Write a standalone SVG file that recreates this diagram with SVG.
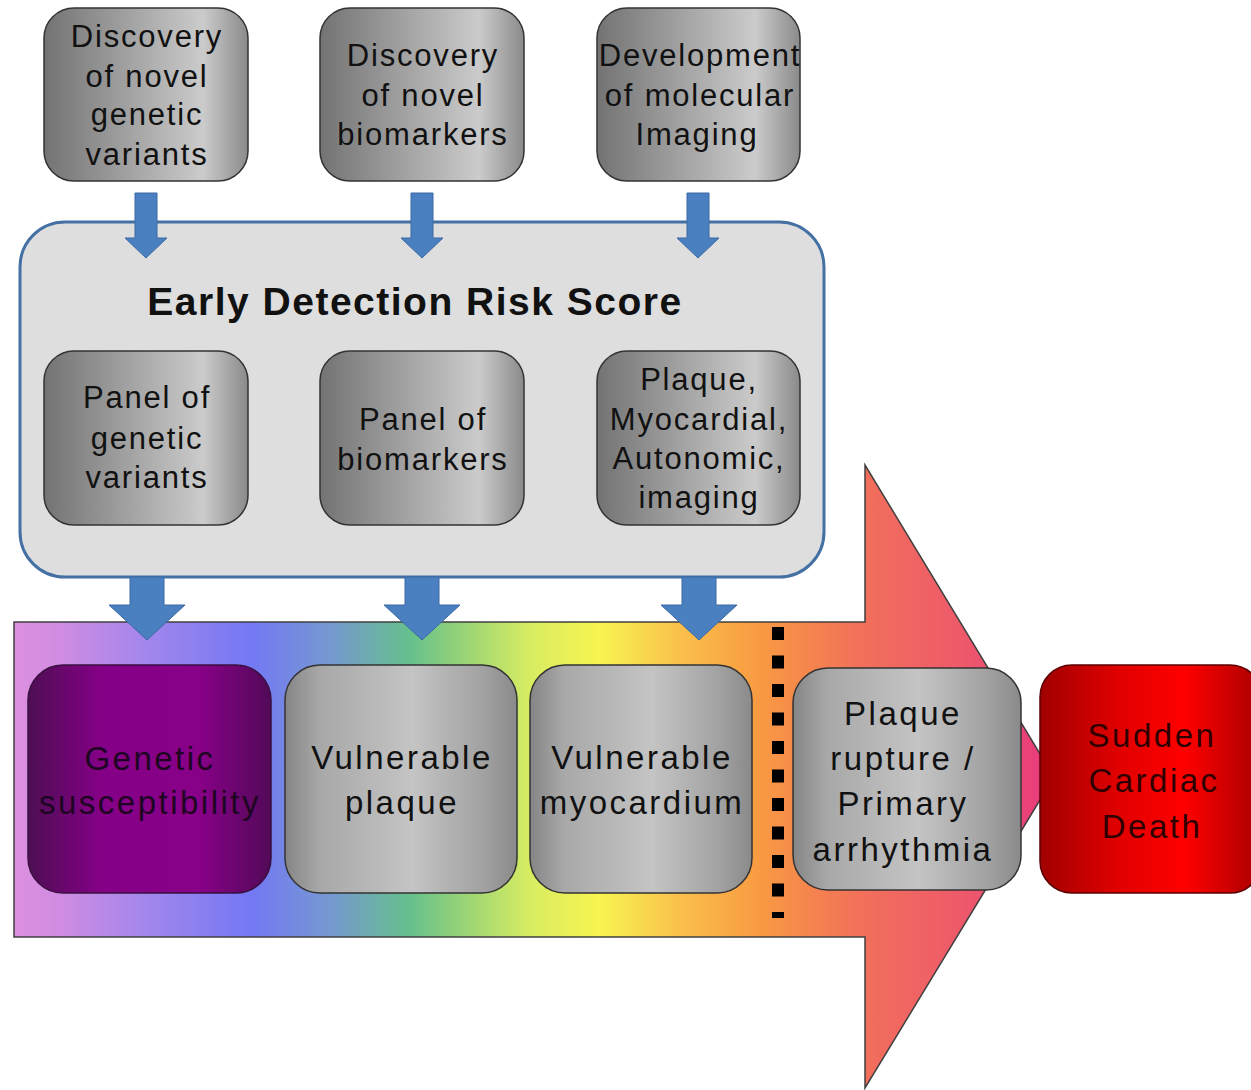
<svg xmlns="http://www.w3.org/2000/svg" width="1251" height="1090" viewBox="0 0 1251 1090">
<defs>
<linearGradient id="rainbow" gradientUnits="userSpaceOnUse" x1="14" y1="0" x2="1054" y2="0">
<stop offset="0" stop-color="#dd8fdf"/>
<stop offset="0.044" stop-color="#d08ce2"/>
<stop offset="0.131" stop-color="#a086ec"/>
<stop offset="0.227" stop-color="#7478f5"/>
<stop offset="0.304" stop-color="#7598d0"/>
<stop offset="0.381" stop-color="#66c08c"/>
<stop offset="0.438" stop-color="#9ed674"/>
<stop offset="0.496" stop-color="#d8ec62"/>
<stop offset="0.563" stop-color="#f8f450"/>
<stop offset="0.640" stop-color="#fac04c"/>
<stop offset="0.717" stop-color="#f89a42"/>
<stop offset="0.813" stop-color="#f2705a"/>
<stop offset="0.910" stop-color="#ee5a6a"/>
<stop offset="1" stop-color="#e8387e"/>
</linearGradient>
<linearGradient id="gray" x1="0" y1="0" x2="1" y2="0">
<stop offset="0" stop-color="#737373"/>
<stop offset="0.45" stop-color="#a6a6a6"/>
<stop offset="0.78" stop-color="#cbcbcb"/>
<stop offset="1" stop-color="#8a8a8a"/>
</linearGradient>
<linearGradient id="gray2" x1="0" y1="0" x2="1" y2="0">
<stop offset="0" stop-color="#858585"/>
<stop offset="0.15" stop-color="#a8a8a8"/>
<stop offset="0.55" stop-color="#c4c4c4"/>
<stop offset="0.85" stop-color="#a2a2a2"/>
<stop offset="1" stop-color="#8a8a8a"/>
</linearGradient>
<linearGradient id="purple" x1="0" y1="0" x2="1" y2="0">
<stop offset="0" stop-color="#4e0e54"/>
<stop offset="0.3" stop-color="#840086"/>
<stop offset="0.7" stop-color="#880088"/>
<stop offset="1" stop-color="#520a58"/>
</linearGradient>
<linearGradient id="red" x1="0" y1="0" x2="1" y2="0">
<stop offset="0" stop-color="#a00000"/>
<stop offset="0.35" stop-color="#e00000"/>
<stop offset="0.65" stop-color="#ff0000"/>
<stop offset="1" stop-color="#a80000"/>
</linearGradient>
<style>
.box{stroke:#333;stroke-width:1.5}
.t{font-family:"Liberation Sans",Arial,sans-serif;font-size:31px;letter-spacing:1.8px;fill:#111;text-anchor:middle}
.tb{font-family:"Liberation Sans",Arial,sans-serif;font-size:33px;letter-spacing:2.5px;fill:#111;text-anchor:middle}
.arrow{fill:#4a7fc0;stroke:#3a6aa6;stroke-width:1}
</style>
</defs>

<g id="progression-arrow">
<path d="M14,622 H865 V465 L1054,777 L865,1088 V937 H14 Z" fill="url(#rainbow)" stroke="#404040" stroke-width="1.5"/>
</g>

<g id="early-detection-risk-score">
<rect x="20" y="222" width="804" height="355" rx="45" fill="#dedede" stroke="#4470a4" stroke-width="3"/>
<text x="415" y="315" font-family="Liberation Sans, Arial, sans-serif" font-size="39" font-weight="bold" letter-spacing="1.5" text-anchor="middle" fill="#111">Early Detection Risk Score</text>
</g>

<g id="panel-genetic">
<rect class="box" x="44" y="351" width="204" height="174" rx="30" fill="url(#gray)"/>
<text class="t" x="147" y="408">Panel of</text>
<text class="t" x="147" y="449">genetic</text>
<text class="t" x="147" y="488">variants</text>
</g>
<g id="panel-biomarkers">
<rect class="box" x="320" y="351" width="204" height="174" rx="30" fill="url(#gray)"/>
<text class="t" x="423" y="430">Panel of</text>
<text class="t" x="423" y="470">biomarkers</text>
</g>
<g id="panel-imaging">
<rect class="box" x="597" y="351" width="203" height="174" rx="30" fill="url(#gray)"/>
<text class="t" x="699" y="390">Plaque,</text>
<text class="t" x="699" y="430">Myocardial,</text>
<text class="t" x="699" y="469">Autonomic,</text>
<text class="t" x="699" y="508">imaging</text>
</g>

<g id="discovery-genetic">
<rect class="box" x="44" y="8" width="204" height="173" rx="30" fill="url(#gray)"/>
<text class="t" x="147" y="47">Discovery</text>
<text class="t" x="147" y="87">of novel</text>
<text class="t" x="147" y="125">genetic</text>
<text class="t" x="147" y="165">variants</text>
</g>
<g id="discovery-biomarkers">
<rect class="box" x="320" y="8" width="204" height="173" rx="30" fill="url(#gray)"/>
<text class="t" x="423" y="66">Discovery</text>
<text class="t" x="423" y="106">of novel</text>
<text class="t" x="423" y="145">biomarkers</text>
</g>
<g id="molecular-imaging">
<rect class="box" x="597" y="8" width="203" height="173" rx="30" fill="url(#gray)"/>
<text class="t" x="700" y="66">Development</text>
<text class="t" x="700" y="106">of molecular</text>
<text class="t" x="697" y="145">Imaging</text>
</g>

<g id="connectors">
<path class="arrow" d="M135,193 H157 V238 H167 L146,258 L125,238 H135 Z"/>
<path class="arrow" d="M411,193 H433 V238 H443 L422,258 L401,238 H411 Z"/>
<path class="arrow" d="M687,193 H709 V238 H719 L698,258 L677,238 H687 Z"/>
<path class="arrow" d="M130,577 H164 V605 H185 L147,640 L109,605 H130 Z"/>
<path class="arrow" d="M405,577 H439 V605 H460 L422,640 L384,605 H405 Z"/>
<path class="arrow" d="M682,577 H716 V605 H737 L699,640 L661,605 H682 Z"/>
<line x1="778" y1="627" x2="778" y2="918" stroke="#000" stroke-width="12" stroke-dasharray="13 15.5"/>
</g>

<g id="genetic-susceptibility">
<rect x="28" y="665" width="243" height="228" rx="35" fill="url(#purple)" stroke="#3a1040" stroke-width="1.5"/>
<text class="tb" x="150" y="770" style="fill:#1e0622">Genetic</text>
<text class="tb" x="150" y="814" style="fill:#1e0622">susceptibility</text>
</g>
<g id="vulnerable-plaque">
<rect class="box" x="285" y="665" width="232" height="228" rx="35" fill="url(#gray2)"/>
<text class="tb" x="402" y="769">Vulnerable</text>
<text class="tb" x="402" y="814">plaque</text>
</g>
<g id="vulnerable-myocardium">
<rect class="box" x="530" y="665" width="222" height="228" rx="35" fill="url(#gray2)"/>
<text class="tb" x="642" y="769">Vulnerable</text>
<text class="tb" x="642" y="814">myocardium</text>
</g>
<g id="plaque-rupture">
<rect class="box" x="793" y="668" width="228" height="222" rx="35" fill="url(#gray2)"/>
<text class="tb" x="903" y="725">Plaque</text>
<text class="tb" x="903" y="770">rupture /</text>
<text class="tb" x="903" y="815">Primary</text>
<text class="tb" x="903" y="861">arrhythmia</text>
</g>
<g id="sudden-cardiac-death">
<rect x="1040" y="665" width="222" height="228" rx="32" fill="url(#red)" stroke="#5a0000" stroke-width="1.5"/>
<text class="tb" x="1152" y="747" style="fill:#300000">Sudden</text>
<text class="tb" x="1154" y="792" style="fill:#300000">Cardiac</text>
<text class="tb" x="1152" y="838" style="fill:#300000">Death</text>
</g>
</svg>
